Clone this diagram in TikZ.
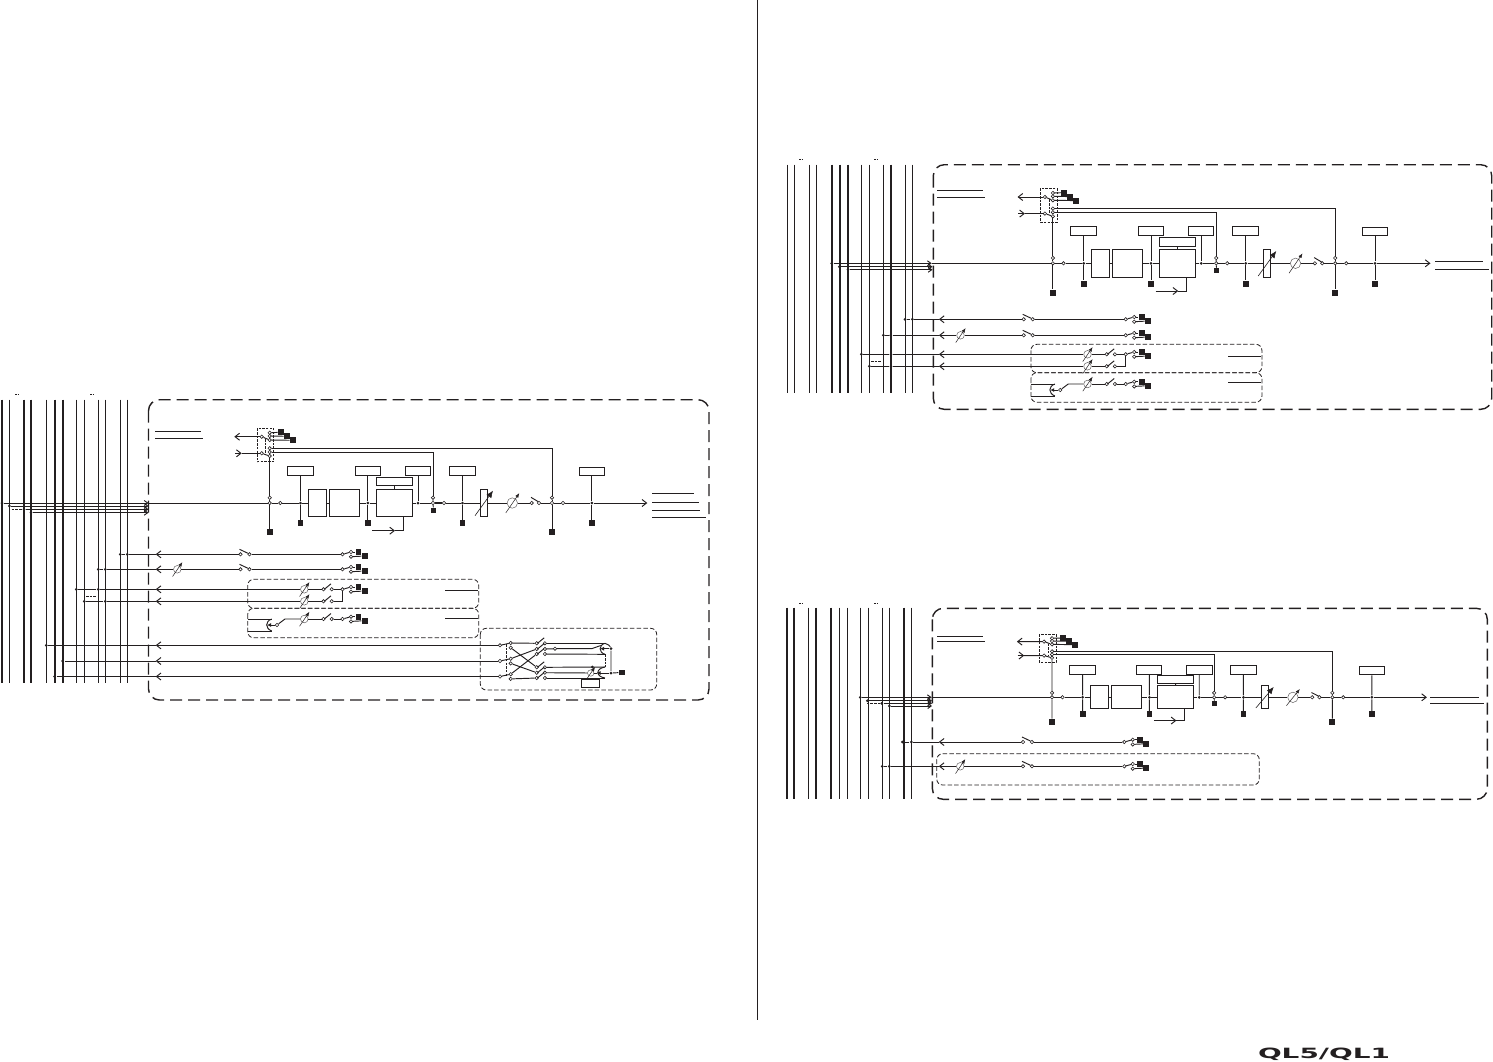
\documentclass[tikz,border=0pt]{standalone}
\usepackage{fontspec}
\usepackage{graphicx}
\usetikzlibrary{arrows.meta}
\newfontfamily\logofont{DejaVu Sans}
\definecolor{ink}{RGB}{35,31,32}
\tikzset{
  term/.style={circle, draw, fill=white, inner sep=0pt, minimum size=3.4pt, line width=.6pt},
  dot/.style={circle, fill=ink, inner sep=0pt, minimum size=3pt},
  sq/.style={rectangle, fill=ink, inner sep=0pt, minimum size=5.8pt},
  box/.style={rectangle, draw, fill=white, inner sep=0pt},
  pot/.style={circle, draw=ink!70, fill=white, inner sep=0pt, line width=.5pt},
  potarrow/.style={line width=.5pt, -{Latex[length=4.5pt,width=3.5pt]}},
  fadarrow/.style={line width=.6pt, -{Latex[length=7pt,width=6pt]}},
  barb/.style={-{Straight Barb[length=4.5pt,width=7pt]}},
  feed/.style={-{Straight Barb[length=3.5pt,width=5pt]}},
  solidtip/.style={-{Latex[length=4pt,width=4pt]}},
  busthin/.style={line width=.9pt},
  busthick/.style={line width=2pt},
  outerbox/.style={line width=1.4pt, dash pattern=on 12pt off 6pt, rounded corners=11pt},
  innerbox/.style={line width=.8pt, dash pattern=on 4.5pt off 2.2pt, rounded corners=6pt},
  link/.style={line width=.7pt, dash pattern=on 2.5pt off 1.2pt},
}
% switch with the arm falling / rising to the right
\newcommand{\swfall}[3]{
  \node[term] (#1l) at (#2,#3) {};
  \node[term] (#1r) at (#2+9,#3) {};
  \coordinate (#1m) at (#2-1,#3-5);
  \coordinate (#1n) at (#2+7.5,#3-1);
  \draw (#1m) -- (#1n);
}
\newcommand{\swrise}[3]{
  \node[term] (#1l) at (#2,#3) {};
  \node[term] (#1r) at (#2+8.2,#3) {};
  \coordinate (#1m) at (#2+.8,#3);
  \coordinate (#1n) at (#2+7.5,#3-5.5);
  \draw (#1m) -- (#1n);
}
\newcommand{\potsym}[4]{
  \node[pot, minimum size=2*#4*1pt] (#1) at (#2,#3) {};
  \coordinate (#1a) at (#2-#4*1.25,#3+#4*1.9);
  \coordinate (#1b) at (#2+#4*1.35,#3-#4*1.9);
  \draw[potarrow] (#1a) -- (#1b);
}
% end of a send row, two terminals and two squares
\newcommand{\sendend}[2]{
  \node[term] (#1a) at (342.5,#2) {};
  \node[term] (#1u) at (351,#2-2.3) {};
  \node[term] (#1d) at (351,#2+2.4) {};
  \node[sq] (#1x) at (358.5,#2-2.3) {};
  \node[sq] (#1y) at (364.7,#2+1.7) {};
  \draw (#1a) -- (#1u);
  \draw (#1u) -- (#1x);
  \draw (#1d) -- (#1y);
}
\newcommand{\busdrop}[5]{
  \node[dot] (#1a) at (#2,#4) {};
  \node[dot] (#1b) at (#3,#4) {};
  \draw (#1a) -- (#1b) -- (#5);
}
% channel strip, x as in the left block, y from the main line
\newcommand{\mainstrip}[3]{
  \begin{scope}[shift={(0,#1)}, yscale=#2]
    % Patch
    \draw[link] (257,-74.7) rectangle (273.7,-41.3);
    \coordinate (pl) at (234.3,-66.3);
    \coordinate (pq) at (235,-49.7);
    \coordinate (pr) at (241.7,-49.7);
    \node[term] (pa) at (261.7,-66.3) {};
    \node[term] (pb) at (261.7,-49.7) {};
    \foreach \n/\y in {u1/-70.3,u2/-67,u3/-63,v1/-54.7,v2/-51,v3/-47}
      \node[term] (\n) at (269.7,\y) {};
    \node[sq] (su1) at (281,-70.7) {};
    \node[sq] (su2) at (287,-66.7) {};
    \node[sq] (su3) at (293,-62.7) {};
    \draw[barb] (pa) -- (pl);
    \draw[barb] (pq) -- (pr);
    \draw (pr) -- (pb);
    \draw (pa) -- (u3);
    \draw (pb) -- (v3);
    \draw (u1) -- (su1);
    \draw (u2) -- (su2);
    \draw (u3) -- (su3);
    \coordinate (lka) at (265.7,-64);
    \coordinate (lkb) at (265.7,-50);
    \draw[link] (lka) -- (lkb);
    % Main line
    \coordinate (in) at (148.5,0);
    \node[term] (m1) at (269.7,-5.3) {};
    \node[term] (m2) at (269.7,0) {};
    \node[term] (m2b) at (280.3,0) {};
    \node[sq] (sm2) at (269.7,29.3) {};
    \node[dot] (i1) at (300.5,0) {};
    \node[box, minimum width=26pt, minimum height=9pt] (b1) at (300.5,-32.2) {};
    \node[sq] (s1) at (300.5,20.3) {};
    \node[box, minimum width=18.4pt, minimum height=#3pt] (eqa) at (317.5,0) {};
    \node[box, minimum width=30.4pt, minimum height=#3pt] (eqb) at (344.5,0) {};
    \node[dot] (i2) at (367.8,0) {};
    \node[box, minimum width=25pt, minimum height=9pt] (b2) at (367.8,-32.2) {};
    \node[sq] (s2) at (367.8,20.3) {};
    \node[box, minimum width=36pt, minimum height=#3pt] (dyn) at (394.3,0) {};
    \node[box, minimum width=36pt, minimum height=8.4pt] (dynk) at (394.3,-21.5) {};
    \node[dot] (i3) at (418,0) {};
    \node[box, minimum width=25.4pt, minimum height=9pt] (b3) at (418,-32.2) {};
    \node[term] (n1) at (433,-5.3) {};
    \node[term] (n2) at (433,0) {};
    \node[sq, minimum size=4.8pt] (sn2) at (433.5,7.3) {};
    \node[term] (n3) at (444,0) {};
    \node[dot] (i4) at (462.5,0) {};
    \node[box, minimum width=26.4pt, minimum height=9pt] (b4) at (462.5,-32.2) {};
    \node[sq] (s4) at (462.5,20.3) {};
    \node[box, minimum width=7.4pt, minimum height=#3pt] (fad) at (484,0) {};
    \coordinate (fa) at (475,12.7);
    \coordinate (fb) at (493,-12.3);
    \draw[fadarrow] (fa) -- (fb);
    \potsym{pan}{512.3}{0}{5.2}
    \node[term] (w1) at (531.7,0) {};
    \node[term] (w2) at (539,0) {};
    \coordinate (wa) at (531,-5.7);
    \coordinate (wb) at (538.3,-1.3);
    \draw (wa) -- (wb);
    \node[term] (o1) at (552,-5.3) {};
    \node[term] (o2) at (552,0) {};
    \node[sq] (so2) at (552,29.3) {};
    \node[term] (o3) at (563,0) {};
    \node[dot] (i5) at (591.8,0) {};
    \node[box, minimum width=25pt, minimum height=8.3pt] (b5) at (591.8,-31.7) {};
    \node[sq] (s5) at (591.8,20.3) {};
    \coordinate (tp) at (647.3,0);
    \draw (in) -- (m2) -- (m2b) -- (i1) -- (eqa) -- (eqb) -- (i2) -- (dyn) -- (i3) -- (n2);
    \draw[line width=1.4pt] (n2) -- (n3);
    \draw (n3) -- (i4) -- (fad) -- (pan) -- (w1);
    \draw (w2) -- (o2) -- (o3) -- (i5);
    \draw[barb] (i5) -- (tp);
    \draw (v3) -- (m1) -- (m2) -- (sm2);
    \draw (v1) -| (o1);
    \draw (v2) -| (n1);
    \draw (n1) -- (n2) -- (sn2);
    \draw (o1) -- (o2) -- (so2);
    \draw (b1) -- (i1) -- (s1);
    \draw (b2) -- (i2) -- (s2);
    \draw (b3) -- (i3);
    \draw (b4) -- (i4) -- (s4);
    \draw (b5) -- (i5) -- (s5);
    \draw (dynk) -- (dyn);
    % Key input
    \coordinate (ka) at (372.3,27.7);
    \coordinate (kb) at (395,27.7);
    \coordinate (kc) at (403.3,27.7);
    \draw[barb] (ka) -- (kb);
    \draw (kb) -- (kc) -- (dyn.south -| kc);
  \end{scope}
}
% first two sends
\newcommand{\sendpair}[2]{
  \coordinate (t1) at (155.7,#1);
  \swfall{g1}{240.5}{#1}
  \sendend{e1}{#1}
  \draw[barb] (g1l) -- (t1);
  \draw (g1r) -- (e1a);
  \coordinate (t2) at (155.7,#2);
  \potsym{p2}{177.3}{#2}{3.8}
  \swfall{g2}{240.5}{#2}
  \sendend{e2}{#2}
  \draw[barb] (p2) -- (t2);
  \draw (g2l) -- (p2);
  \draw (g2r) -- (e2a);
}
% the dashed pair of sends
\newcommand{\sendbox}[4]{
  \begin{scope}[shift={(0,#1)}]
    \draw[innerbox] (247.7,-10) rectangle (478.7,#2);
    \draw[innerbox] (247.7,#2) rectangle (478.7,#2+29.5);
    \coordinate (la) at (445,#3);
    \coordinate (lb) at (478,#3);
    \coordinate (lc) at (445,#4);
    \coordinate (ld) at (478,#4);
    \draw (la) -- (lb);
    \draw (lc) -- (ld);
    \coordinate (t3) at (155.7,0);
    \potsym{p3}{304.3}{0}{3.8}
    \swrise{g3}{323.5}{0}
    \sendend{e3}{0}
    \draw[barb] (p3) -- (t3);
    \draw (g3l) -- (p3);
    \draw (g3r) -- (e3a);
    \coordinate (t4) at (155.7,12);
    \potsym{p4}{304.3}{12}{3.8}
    \swrise{g4}{323.5}{12}
    \draw[barb] (p4) -- (t4);
    \draw (g4l) -- (p4);
    \draw (g4r) -| (e3a);
    % Mix minus
    \coordinate (ha) at (247.7,29.7);
    \coordinate (hb) at (271.7,29.7);
    \coordinate (hc) at (247.7,41.7);
    \coordinate (hd) at (271.7,41.7);
    \coordinate (he) at (267,35.7);
    \coordinate (hf) at (285,29.7);
    \node[term] (h1) at (277,35.7) {};
    \potsym{p5}{304.3}{29.7}{3.8}
    \swrise{g5}{323.5}{29.7}
    \sendend{e5}{29.7}
    \draw (ha) -- (hb);
    \draw (hc) -- (hd);
    \draw (hb) .. controls (265,32) and (265,39) .. (hd);
    \draw[solidtip] (h1) -- (he);
    \draw (h1) -- (hf) -- (p5);
    \draw (g5l) -- (p5);
    \draw (g5r) -- (e5a);
  \end{scope}
}
\begin{document}
\begin{tikzpicture}[x=1pt, y=-1pt, line width=.95pt, color=ink]
  \useasboundingbox (0,0) rectangle (1493,1061);
  % Page rule and logo
  \coordinate (ru) at (757,0);
  \coordinate (rd) at (757,1020);
  \draw (ru) -- (rd);
  \node[inner sep=0pt] (logo) at (1324,1054) {\resizebox{132pt}{10.5pt}{\logofont\bfseries QL5/QL1}};
  % Busses
  \foreach \x in {9.3,46.3,76.3,84.3,98.3,105.3,120.3,127.3}
    \draw[busthin] (\x,399.7) -- (\x,682.7);
  \foreach \x in {1.7,24,31,54.7,62.7}
    \draw[busthick] (\x,399.7) -- (\x,682.7);
  \foreach \x in {787.3,794.3,809.3,816.3,861.3,869.3,883.3,905.7,912.3}
    \draw[busthin] (\x,164.7) -- (\x,392.7);
  \foreach \x in {831.7,840,848,891}
    \draw[busthick] (\x,164.7) -- (\x,392.7);
  \foreach \x in {808.3,839.3,847.3,860.3,868.3,882.3,889.3,911.3}
    \draw[busthin] (\x,607.7) -- (\x,799.3);
  \foreach \x in {786.7,794,815.7,831,904}
    \draw[busthick] (\x,607.7) -- (\x,799.3);
  \foreach \x/\y in {17/394,92/394,801/159,876/159,801/603,876/603}
    \draw[line width=1pt, dash pattern=on 1.5pt off 1pt] (\x-2,\y) -- (\x+2,\y);
  % Left block
  \draw[outerbox] (148.5,399.7) rectangle (709,700);
  \coordinate (tla) at (155,431.3);
  \coordinate (tlb) at (201,431.3);
  \coordinate (tlc) at (155,438.3);
  \coordinate (tld) at (203,438.3);
  \draw (tla) -- (tlb);
  \draw (tlc) -- (tld);
  \begin{scope}[name prefix=a-]
    \mainstrip{503}{1}{27}
    \sendpair{554.3}{569.3}
    \sendbox{589.3}{19}{.7}{29}
    \foreach \n/\x/\y/\w in {o1/693.7/493.3/0,o2/698.7/502.3/0,o3/699.7/510.3/0,o4/706/517.3/0}{
      \coordinate (\n a) at (652,\y);
      \coordinate (\n b) at (\x,\y);
      \draw (\n a) -- (\n b);
    }
  \end{scope}
  % Left block, feeds
  \node[dot] (fa1) at (2,503) {};
  \node[dot] (fa2) at (9.3,506) {};
  \node[dot] (fa3) at (24,509.3) {};
  \node[dot] (fa4) at (31,512.7) {};
  \coordinate (ta2) at (148.5,506);
  \coordinate (ta3) at (148.5,509.3);
  \coordinate (ta4) at (148.5,512.7);
  \draw[feed] (fa1) -- (a-in);
  \draw[feed] (fa2) -- (ta2);
  \draw[feed] (fa3) -- (ta3);
  \draw[feed] (fa4) -- (ta4);
  \draw[link] (fa2) |- (fa3);
  \busdrop{ra1}{120.3}{127.3}{554.3}{a-t1}
  \busdrop{ra2}{98.3}{105.3}{569.3}{a-t2}
  \busdrop{ra3}{76.3}{98.3}{589.3}{a-t3}
  \busdrop{ra4}{84.3}{105.3}{601.3}{a-t4}
  \coordinate (dta) at (86,596.3);
  \coordinate (dtb) at (96,596.3);
  \draw[link] (dta) -- (dtb);
  % Left block, matrix
  \draw[innerbox] (480.3,628.3) rectangle (656.7,690);
  \foreach \n/\x/\y in {x1/46.3/645.3,x2/62.7/661,x3/54.7/676.5}{
    \node[dot] (\n) at (\x,\y) {};
    \coordinate (\n t) at (155.7,\y);
    \node[term] (\n i) at (500,\y) {};
    \node[term] (\n u) at (510.7,\y-2.3) {};
    \node[term] (\n d) at (510.7,\y+2.4) {};
    \draw[barb] (\n i) -- (\n t);
    \draw (\n t) -- (\n);
    \draw (\n i) -- (\n u);
  }
  \coordinate (lnk1) at (506.7,644);
  \coordinate (lnk2) at (506.7,677);
  \draw[link] (lnk1) -- (lnk2);
  \swrise{y1}{536.7}{643.3}
  \swrise{y2}{536.7}{649}
  \swrise{y3}{536.7}{654}
  \swrise{y4}{536.7}{667.3}
  \swrise{y5}{536.7}{672.7}
  \swrise{y6}{536.7}{678}
  \draw (x1u) -- (y1l);
  \draw (x1d) -- (y4l);
  \draw (x2u) -- (y2l);
  \draw (x2d) -- (y5l);
  \draw (x3u) -- (y3l);
  \draw (x3d) -- (y6l);
  \coordinate (ma) at (605,643.3);
  \coordinate (mb) at (605,654.3);
  \coordinate (mc) at (591.7,648.7);
  \coordinate (md) at (600.7,645.5);
  \coordinate (me) at (600,648.7);
  \coordinate (mf) at (605,667);
  \coordinate (mg) at (605,678);
  \coordinate (mh) at (596.5,673);
  \node[term] (y2x) at (555,648.7) {};
  \node[dot] (jn1) at (611,648.7) {};
  \node[dot] (jn2) at (611,673) {};
  \node[dot] (jn3) at (592.3,667) {};
  \node[sq] (sjn) at (621.7,672.5) {};
  \potsym{mp}{590.7}{673}{3.2}
  \node[box, minimum width=18pt, minimum height=7.3pt] (mbx) at (590.3,683.6) {};
  \draw (y1r) -- (ma);
  \draw (y2r) -- (y2x) -- (mc) -- (md);
  \draw (y3r) -- (mb);
  \draw (y4r) -- (mf);
  \draw (y5r) -- (mp);
  \draw (y6r) -- (mg);
  \draw (ma) .. controls (598.5,645) and (598.5,652.5) .. (mb);
  \draw (mf) .. controls (595.5,668.5) and (595.5,676.5) .. (mg);
  \draw (ma) .. controls (608,644) and (610,646) .. (jn1);
  \draw[solidtip] (jn1) -- (me);
  \draw[solidtip] (jn2) -- (mh);
  \draw (jn1) -- (jn2) -- (sjn);
  \draw (mp) -- (mh);
  \draw[link] (mb) -- (mf);
  % Right upper block
  \draw[outerbox] (933.3,164.7) rectangle (1491.7,409.3);
  \coordinate (tra) at (937,190.3);
  \coordinate (trb) at (983,190.3);
  \coordinate (trc) at (937,197.3);
  \coordinate (trd) at (985,197.3);
  \draw (tra) -- (trb);
  \draw (trc) -- (trd);
  \coordinate (ora) at (1435,261.3);
  \coordinate (orb) at (1482.7,261.3);
  \coordinate (orc) at (1435,269);
  \coordinate (ord) at (1488.7,269);
  \draw (ora) -- (orb);
  \draw (orc) -- (ord);
  \begin{scope}[shift={(783.2,0)}, name prefix=b-]
    \mainstrip{263.3}{1}{28}
    \sendpair{319.3}{335.3}
    \sendbox{354.3}{18.4}{2}{27.7}
  \end{scope}
  \node[dot] (fb1) at (831.7,263.3) {};
  \node[dot] (fb2) at (839.3,266.7) {};
  \node[dot] (fb3) at (848,269.7) {};
  \coordinate (tb2) at (932.5,266.7);
  \coordinate (tb3) at (932.5,269.7);
  \draw[feed] (fb1) -- (b-in);
  \draw[feed] (fb2) -- (tb2);
  \draw[feed] (fb3) -- (tb3);
  \busdrop{rb1}{905}{912.3}{319.3}{b-t1}
  \busdrop{rb2}{883.3}{890.7}{335.3}{b-t2}
  \busdrop{rb3}{861.3}{891}{354.3}{b-t3}
  \busdrop{rb4}{869.3}{891}{366.3}{b-t4}
  \coordinate (dtc) at (871,361.3);
  \coordinate (dtd) at (881,361.3);
  \draw[link] (dtc) -- (dtd);
  % Right lower block
  \draw[outerbox] (932.3,608.3) rectangle (1487.3,799.3);
  \draw[innerbox] (936.7,753.7) rectangle (1259.3,785);
  \coordinate (tsa) at (937,636.3);
  \coordinate (tsb) at (983,636.3);
  \coordinate (tsc) at (937,641);
  \coordinate (tsd) at (985,641);
  \draw (tsa) -- (tsb);
  \draw (tsc) -- (tsd);
  \coordinate (osa) at (1430,697.3);
  \coordinate (osb) at (1478.7,697.3);
  \coordinate (osc) at (1430,703.3);
  \coordinate (osd) at (1483.7,703.3);
  \draw (osa) -- (osb);
  \draw (osc) -- (osd);
  \begin{scope}[shift={(784.2,0)}, xscale=.993, name prefix=c-]
    \mainstrip{697.3}{.84}{23}
    \sendpair{742}{766.3}
  \end{scope}
  \node[dot] (fc1) at (860.3,697.3) {};
  \node[dot] (fc2) at (867.3,700.7) {};
  \node[dot] (fc3) at (881.7,703.3) {};
  \node[dot] (fc4) at (889.3,706) {};
  \coordinate (tc2) at (932,700.7);
  \coordinate (tc3) at (932,703.3);
  \coordinate (tc4) at (932,706);
  \draw[feed] (fc1) -- (c-in);
  \draw[feed] (fc2) -- (tc2);
  \draw[feed] (fc3) -- (tc3);
  \draw[feed] (fc4) -- (tc4);
  \draw[link] (fc2) |- (fc3);
  \busdrop{rc1}{902.3}{911.3}{742}{c-t1}
  \busdrop{rc2}{882.3}{889.3}{766.3}{c-t2}
\end{tikzpicture}
\end{document}
